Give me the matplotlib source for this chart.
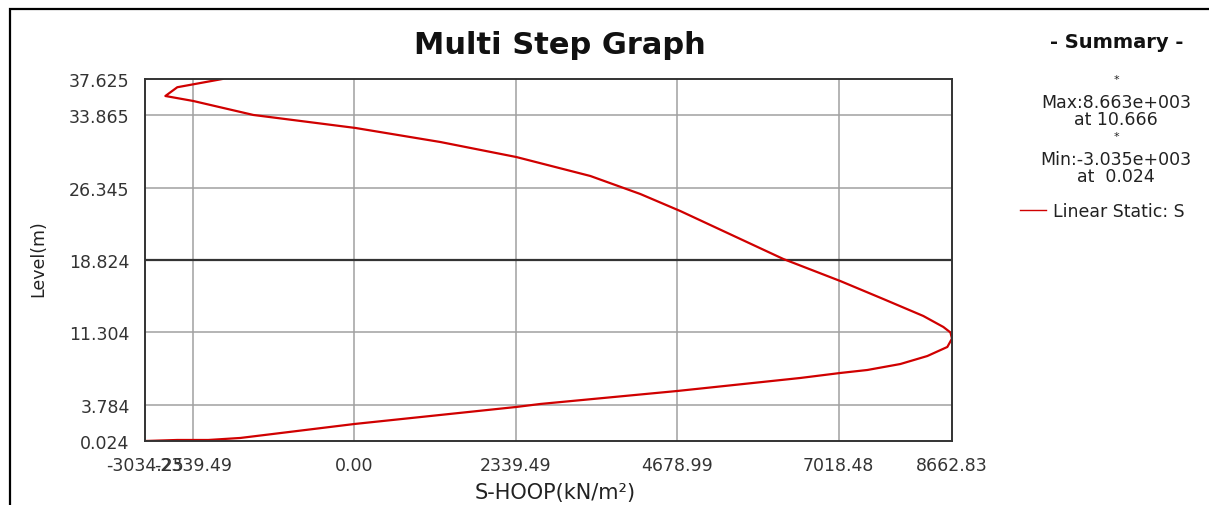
#!/usr/bin/python3
#
# multi_step_graph.py

import matplotlib
matplotlib.use('Agg')
import matplotlib.pyplot as plt
from matplotlib.patches import Rectangle

# S-HOOP values (kN/m2) against level (m), read top to bottom
levels = [37.625, 36.77, 35.86, 35.34, 33.89, 32.54, 31.08, 29.52, 27.55,
          25.68, 23.91, 18.93, 16.64, 14.77, 13.01, 11.87, 11.30, 10.666,
          9.79, 8.85, 8.02, 7.40, 7.09, 6.57, 5.22, 3.87, 3.56, 1.79, 0.34,
          0.13, 0.13, 0.024]
hoop = [-1913, -2566, -2739, -2334, -1464, 15, 1247, 2348, 3421, 4145, 4725,
        6218, 7044, 7668, 8247, 8537, 8640, 8663, 8595, 8305, 7914, 7436,
        7044, 6464, 4682, 2696, 2348, 0, -1652, -2116, -2566, -3034.25]

x_ticks = [-3034.25, -2339.49, 0.00, 2339.49, 4678.99, 7018.48, 8662.83]
y_ticks = [0.024, 3.784, 11.304, 18.824, 26.345, 33.865, 37.625]

series_name = 'Linear Static: S'
summary = ['*', 'Max:8.663e+003', 'at 10.666', '*', 'Min:-3.035e+003', 'at  0.024']

fig = plt.figure(figsize=(12.09, 5.06), dpi=100)
plt.rcParams['font.family'] = ['DejaVu Sans']

# screenshot frame (left and top edge only)
fig.patches.append(Rectangle((10 / 1209, -0.1), 1.2, 1.1 - 10 / 506,
                             transform=fig.transFigure, fill=False,
                             edgecolor='black', linewidth=1.6))

ax = fig.add_axes([145 / 1209, 1 - 442 / 506, 807 / 1209, 362 / 506])
line, = ax.plot(hoop, levels, color='#d00000', linewidth=1.6, label=series_name)

ax.set_xlim(x_ticks[0], x_ticks[-1])
ax.set_ylim(y_ticks[0], y_ticks[-1])
ax.set_xticks(x_ticks)
ax.set_yticks(y_ticks)
ax.set_xticklabels(['%.2f' % v for v in x_ticks])
ax.set_yticklabels(['%.3f' % v for v in y_ticks])
ax.tick_params(axis='both', length=0, labelsize=12.5, colors='#333333')
ax.tick_params(axis='x', pad=11)
ax.tick_params(axis='y', pad=11)

# grid lines on inner ticks, middle level drawn dark
for v in x_ticks[1:-1]:
    ax.axvline(v, color='#a0a0a0', linewidth=1.1, zorder=0)
for v in y_ticks[1:-1]:
    if v == y_ticks[3]:
        ax.axhline(v, color='#333333', linewidth=1.6, zorder=0)
    else:
        ax.axhline(v, color='#a0a0a0', linewidth=1.1, zorder=0)

for s in ax.spines.values():
    s.set_color('#333333')
    s.set_linewidth(1.4)

fig.text(560 / 1209, 1 - 45 / 506, 'Multi Step Graph', fontsize=22,
         fontweight='bold', ha='center', va='center', color='#111111')
fig.text(555 / 1209, 1 - 493 / 506, 'S-HOOP(kN/m²)', fontsize=15,
         ha='center', va='center', color='#222222')
fig.text(38 / 1209, 1 - 259 / 506, 'Level(m)', fontsize=12.5, rotation=90,
         ha='center', va='center', color='#222222')

# summary panel
fig.text(1117 / 1209, 1 - 42 / 506, '- Summary -', fontsize=14,
         fontweight='bold', ha='center', va='center', color='#111111')
summary_y = [80, 103, 120, 137, 160, 177]
for txt, yy in zip(summary, summary_y):
    fig.text(1116 / 1209, 1 - yy / 506, txt, fontsize=8 if txt == '*' else 12.5,
             ha='center', va='center', color='#222222')

fig.legend(handles=[line], loc='center left',
           bbox_to_anchor=(1020 / 1209, 1 - 212 / 506), frameon=False,
           fontsize=12.5, handlelength=1.5, handletextpad=0.4,
           borderpad=0, borderaxespad=0, labelcolor='#222222')
fig.legends[0].get_lines()[0].set_linewidth(1.0)

fig.savefig('out.png', dpi=100)
